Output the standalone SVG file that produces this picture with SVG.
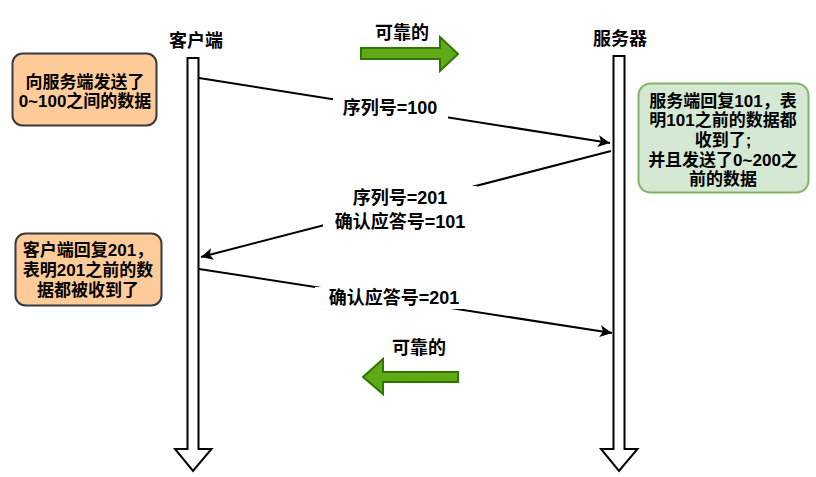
<svg xmlns="http://www.w3.org/2000/svg" width="816" height="477" viewBox="0 0 816 477">
<style>
text{font-family:"Liberation Sans","Noto Sans CJK SC",sans-serif;font-weight:bold;fill:#000;text-anchor:middle;dominant-baseline:central}
.t{font-size:18px}
.b{font-size:17px}
.lab{font-size:18px}
.life{fill:#fff;stroke:#000;stroke-width:2;stroke-linejoin:miter}
.msg{stroke:#000;stroke-width:2;fill:none}
.green{fill:#60a917;stroke:#2d7600;stroke-width:2}
.orange{fill:#ffcc99;stroke:#36393d;stroke-width:2}
.mint{fill:#d5e8d4;stroke:#82b366;stroke-width:2}
.bg{fill:#fff}
</style>
<defs>
<marker id="ah" markerUnits="userSpaceOnUse" markerWidth="14" markerHeight="12" refX="12" refY="6" orient="auto">
<path d="M0,0 L12,6 L0,12 L3,6 Z" fill="#000"/>
</marker>
</defs>
<rect width="816" height="477" fill="#fff"/>

<g id="client">
<path class="life" d="M187.5,58 H198.5 V449 H211.5 L193,471 L175,449 H187.5 Z"/>
<text class="t" x="196" y="41">客户端</text>
</g>
<g id="server">
<path class="life" d="M613.5,56 H624.5 V449 H637.5 L619,471 L601,449 H613.5 Z"/>
<text class="t" x="620" y="39">服务器</text>
</g>

<g id="connectors">
<path class="msg" d="M199,78 L610,143" marker-end="url(#ah)"/>
<path class="msg" d="M611,151 L201,257" marker-end="url(#ah)"/>
<path class="msg" d="M199,269 L612,333" marker-end="url(#ah)"/>
</g>

<g id="label1">
<rect class="bg" x="333" y="97" width="115" height="22"/>
<text class="lab" x="390" y="108">序列号=100</text>
</g>
<g id="label2">
<rect class="bg" x="323" y="186" width="154" height="48"/>
<text class="lab" x="400" y="198">序列号=201</text>
<text class="lab" x="400" y="222">确认应答号=101</text>
</g>
<g id="label3">
<rect class="bg" x="315" y="287" width="158" height="22"/>
<text class="lab" x="394" y="298">确认应答号=201</text>
</g>

<g id="reliable-top">
<path class="green" d="M361,48 H440 V37 L458,54 L440,71 V59 H361 Z"/>
<text class="t" x="402" y="33">可靠的</text>
</g>
<g id="reliable-bottom">
<path class="green" d="M458,372 H383 V359 L363,377 L383,394 V382 H458 Z"/>
<text class="t" x="419" y="348">可靠的</text>
</g>

<g id="note-client-send">
<rect class="orange" x="12.5" y="53.5" width="144" height="72" rx="10"/>
<text class="b" x="85" y="82">向服务端发送了</text>
<text class="b" x="85" y="101">0~100之间的数据</text>
</g>
<g id="note-server">
<rect class="mint" x="638.5" y="83.5" width="170" height="109" rx="12"/>
<text class="b" x="723" y="101">服务端回复101，表</text>
<text class="b" x="723" y="120">明101之前的数据都</text>
<text class="b" x="723" y="140">收到了;</text>
<text class="b" x="723" y="160">并且发送了0~200之</text>
<text class="b" x="723" y="179">前的数据</text>
</g>
<g id="note-client-reply">
<rect class="orange" x="15.5" y="233.5" width="146" height="72" rx="10"/>
<text class="b" x="88" y="250">客户端回复201，</text>
<text class="b" x="88" y="270">表明201之前的数</text>
<text class="b" x="88" y="290">据都被收到了</text>
</g>
</svg>
